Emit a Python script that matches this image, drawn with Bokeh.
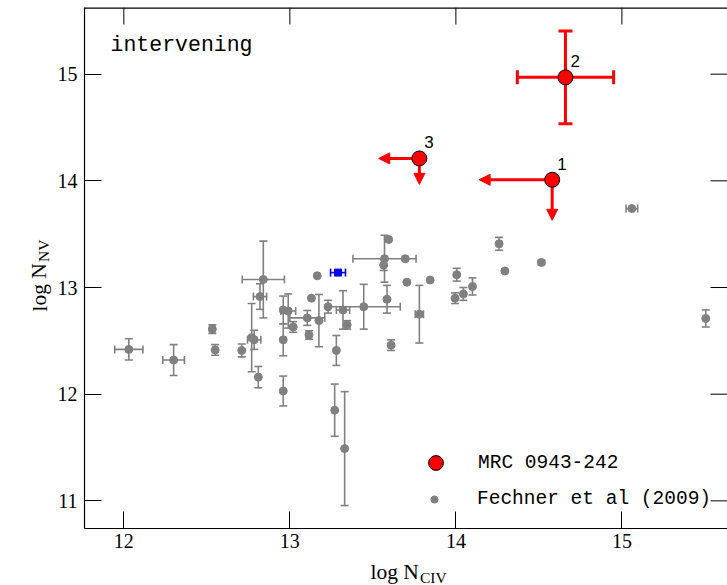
from bokeh.plotting import figure
from bokeh.layouts import column
from bokeh.models import (ColumnDataSource, Whisker, TeeHead, Arrow, NormalHead, Label,
                          LinearAxis, FixedTicker, Legend, LegendItem, Range1d, Span)
from bokeh.core.properties import value
from bokeh.embed import file_html
from bokeh.resources import INLINE

# Fechner et al. (2009) intervening systems: log N(CIV), log N(NV) with 1-sigma errors
civ = [12.03, 12.30, 12.533, 12.55, 12.71, 12.77, 12.785, 12.81, 12.84, 12.82,
       12.96, 12.96, 12.99, 12.96, 13.02, 13.105, 13.115, 13.13, 13.165, 13.175,
       13.23, 13.32, 13.445, 13.345, 13.28, 13.27, 13.33, 13.57, 13.595, 13.565,
       13.695, 13.585, 13.705, 13.845, 13.78, 13.61, 14.005, 13.995, 14.045, 14.10,
       14.26, 14.295, 14.515, 15.06, 15.505]
nv = [12.42, 12.32, 12.61, 12.415, 12.41, 12.53, 12.51, 12.16, 13.075, 12.915,
      12.03, 12.79, 12.78, 12.51, 12.63, 12.715, 12.555, 12.90, 13.11, 12.69,
      12.82, 12.79, 12.82, 12.65, 12.41, 11.85, 11.49, 13.27, 13.45, 13.21,
      13.27, 12.89, 13.05, 13.07, 12.75, 12.46, 13.12, 12.90, 12.94, 13.01,
      13.41, 13.155, 13.235, 13.74, 12.71]
civ_err = [0.085, 0.065, 0, 0, 0, 0, 0.04, 0, 0.127, 0.04,
           0, 0, 0.045, 0, 0, 0.105, 0, 0, 0, 0,
           0, 0.04, 0.22, 0, 0, 0, 0, 0.19, 0, 0,
           0, 0, 0, 0, 0.025, 0, 0, 0, 0, 0,
           0, 0, 0, 0.035, 0]
nv_err = [0.10, 0.145, 0.04, 0.05, 0.06, 0.32, 0.09, 0.10, 0.36, 0.12,
          0.14, 0.13, 0.16, 0.15, 0.05, 0.07, 0.04, 0, 0, 0.245,
          0.06, 0.18, 0.21, 0.04, 0.14, 0.245, 0.534, 0.22, 0, 0.05,
          0, 0.13, 0, 0, 0.27, 0.05, 0.06, 0.05, 0.06, 0.08,
          0.06, 0, 0.02, 0, 0.08]

# highlighted system
blue_civ = [13.29]
blue_nv = [13.14]
blue_civ_err = [0.045]
blue_nv_err = [0.02]

# MRC 0943-242 absorbers (1 and 3 are upper limits)
mrc_id = ["1", "2", "3"]
mrc_civ = [14.58, 14.66, 13.78]
mrc_nv = [14.01, 14.97, 14.21]
mrc_civ_err = [0.0, 0.29, 0.0]
mrc_nv_err = [0.0, 0.435, 0.0]
mrc_limit = [True, False, True]
mrc_civ_arrow = [14.14, None, 13.535]
mrc_nv_arrow = [13.63, None, 13.967]

x_ticks = [12, 13, 14, 15]
y_ticks = [11, 12, 13, 14, 15]

X0, X1 = 11.763, 15.636
Y0, Y1 = 10.741, 15.625

GRAY = "#808080"
RED = "#ff0000"
SERIF = "Liberation Serif"
MONO = "Liberation Mono"

p = figure(width=727, height=556, output_backend="svg", toolbar_location=None,
           x_range=Range1d(X0, X1), y_range=Range1d(Y0, Y1),
           min_border_left=84, min_border_right=0, min_border_top=7, min_border_bottom=28,
           x_axis_location=None, y_axis_location=None)
p.grid.visible = False
p.outline_line_color = None
p.background_fill_color = "white"
p.border_fill_color = "white"


def style_axis(ax, ticks, standoff):
    ax.ticker = FixedTicker(ticks=ticks)
    ax.major_tick_in = 17
    ax.major_tick_out = 0
    ax.minor_tick_line_color = None
    ax.major_tick_line_color = "black"
    ax.major_tick_line_width = 1
    ax.axis_line_color = "black"
    ax.axis_line_width = 1.2
    ax.major_label_text_font = SERIF
    ax.major_label_text_font_size = "20px"
    ax.major_label_text_color = "black"
    ax.major_label_standoff = standoff
    return ax


p.add_layout(style_axis(LinearAxis(), x_ticks, 5), "below")
p.add_layout(style_axis(LinearAxis(), y_ticks, 7), "left")

# top frame edge and mirrored inward ticks on the top and right sides
p.add_layout(Span(location=Y1, dimension="width", line_color="black", line_width=2.4))
tick_dy = 17 * (Y1 - Y0) / 521.0
tick_dx = 17 * (X1 - X0) / 643.0
p.segment(x0=x_ticks, y0=[Y1] * len(x_ticks), x1=x_ticks, y1=[Y1 - tick_dy] * len(x_ticks),
          line_color="black", line_width=1)
p.segment(x0=[X1] * len(y_ticks), y0=y_ticks, x1=[X1 - tick_dx] * len(y_ticks), y1=y_ticks,
          line_color="black", line_width=1)


def whiskers(xs, ys, errs, dim, color, width, cap):
    pts = [(x, y, e) for x, y, e in zip(xs, ys, errs) if e]
    if dim == "width":
        data = dict(base=[y for x, y, e in pts], lower=[x - e for x, y, e in pts],
                    upper=[x + e for x, y, e in pts])
    else:
        data = dict(base=[x for x, y, e in pts], lower=[y - e for x, y, e in pts],
                    upper=[y + e for x, y, e in pts])
    w = Whisker(source=ColumnDataSource(data), base="base", lower="lower", upper="upper",
                dimension=dim, line_color=color, line_width=width, level="underlay",
                lower_head=TeeHead(size=cap, line_color=color, line_width=width),
                upper_head=TeeHead(size=cap, line_color=color, line_width=width))
    p.add_layout(w)


# Fechner et al. sample
whiskers(civ, nv, civ_err, "width", GRAY, 1.6, 8)
whiskers(civ, nv, nv_err, "height", GRAY, 1.6, 8)
r_fech = p.scatter(civ, nv, size=8, color=GRAY, line_color=GRAY)

whiskers(blue_civ, blue_nv, blue_civ_err, "width", "blue", 1.6, 8)
whiskers(blue_civ, blue_nv, blue_nv_err, "height", "blue", 1.6, 6)
p.scatter(blue_civ, blue_nv, size=7, marker="square", color="blue")

# MRC 0943-242: error bars for the detection, arrows for the upper limits
whiskers(mrc_civ, mrc_nv, mrc_civ_err, "width", RED, 3, 14)
whiskers(mrc_civ, mrc_nv, mrc_nv_err, "height", RED, 3, 14)

lim = [i for i, f in enumerate(mrc_limit) if f]
arrow_src = ColumnDataSource(dict(
    xs=[mrc_civ[i] for i in lim] * 2,
    ys=[mrc_nv[i] for i in lim] * 2,
    xe=[mrc_civ_arrow[i] for i in lim] + [mrc_civ[i] for i in lim],
    ye=[mrc_nv[i] for i in lim] + [mrc_nv_arrow[i] for i in lim],
))
p.add_layout(Arrow(source=arrow_src, x_start="xs", y_start="ys", x_end="xe", y_end="ye",
                   line_color=RED, line_width=3, level="underlay",
                   end=NormalHead(size=11, fill_color=RED, line_color=RED, line_width=1)))

mrc_src = ColumnDataSource(dict(x=mrc_civ, y=mrc_nv, id=mrc_id))
r_mrc = p.scatter("x", "y", source=mrc_src, size=15, fill_color=RED, line_color="black",
                  line_width=1)
p.text("x", "y", text="id", source=mrc_src, x_offset=5, y_offset=-16,
       text_font=value("Liberation Sans"), text_font_size="17px", text_color="black",
       text_baseline="alphabetic", text_align="left")

# panel tag
p.add_layout(Label(x=11.92, y=15.277, text="intervening", text_font=MONO,
                   text_font_size="21.5px", text_color="black", text_baseline="alphabetic"))

# y-axis title with subscript, kept in the left side panel so it is not clipped
title_style = dict(text_font=SERIF, text_color="black", text_baseline="alphabetic",
                   x_units="canvas", y_units="canvas")
p.add_layout(Label(x=39, y=311, text="log N", angle=1.5708, text_font_size="21.5px",
                   **title_style), "left")
p.add_layout(Label(x=43, y=261.5, text="NV", angle=1.5708, text_font_size="15.5px",
                   **title_style), "left")

legend_style = dict(orientation="vertical", padding=0, margin=0, spacing=0,
                    label_text_font=MONO, label_text_font_size="19.5px",
                    label_text_baseline="middle", label_text_color="black",
                    border_line_color=None, background_fill_alpha=0)
p.add_layout(Legend(items=[LegendItem(label="MRC 0943-242", renderers=[r_mrc])],
                    location=(333, 47), glyph_width=37, glyph_height=37, label_height=20,
                    label_standoff=24, **legend_style))
p.add_layout(Legend(items=[LegendItem(label="Fechner et al (2009)", renderers=[r_fech])],
                    location=(341, 18), glyph_width=18, glyph_height=18, label_height=18,
                    label_standoff=34, **legend_style))

# x-axis title strip underneath (canvas pixel positions of the strip)
xt = figure(width=727, height=29, output_backend="svg", toolbar_location=None,
            x_range=Range1d(0, 1), y_range=Range1d(0, 1),
            min_border=0, x_axis_location=None, y_axis_location=None)
xt.grid.visible = False
xt.outline_line_color = None
xt.border_fill_color = "white"
xt.add_layout(Label(x=370, y=15, text="log N", text_font_size="21.5px", **title_style),
              "below")
xt.add_layout(Label(x=419.5, y=21, text="CIV", text_font_size="15.5px", **title_style),
              "below")

layout = column(p, xt, spacing=0)
open("out.html", "w").write(file_html(layout, INLINE))
